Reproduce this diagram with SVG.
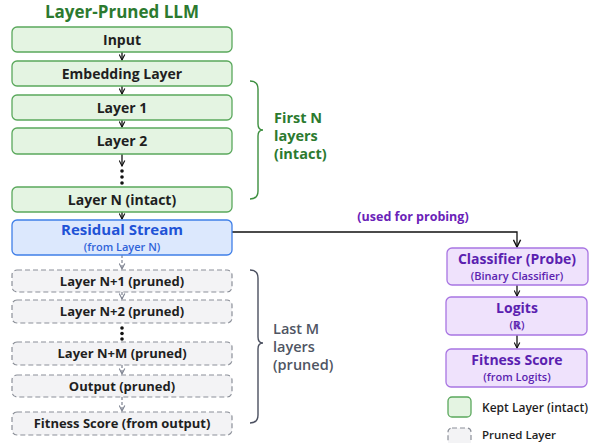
<svg xmlns="http://www.w3.org/2000/svg" width="592" height="443" viewBox="0 0 592 443">
<defs>
<style>
text{font-family:"Open Sans","Liberation Sans",sans-serif;}
.kept{fill:#e4f4e2;stroke:#5aa85c;stroke-width:1.3;}
.pr{fill:#f3f3f5;stroke:#8c9099;stroke-width:1.2;stroke-dasharray:5 3;}
.pur{fill:#efe2fc;stroke:#a875e2;stroke-width:1.3;}
.res{fill:#dce8fd;stroke:#3f7fe8;stroke-width:1.3;}
.t{font-size:14px;font-weight:700;fill:#1f1f1f;text-anchor:middle;}
.tp{font-size:13px;font-weight:700;fill:#1f1f1f;text-anchor:middle;}
.ph{font-size:14px;font-weight:700;fill:#5b1fb0;text-anchor:middle;}
.ps{font-size:11px;font-weight:600;fill:#5b1fb0;text-anchor:middle;}
.sol{stroke:#111;stroke-width:1.3;fill:none;}
.dsh{stroke:#7d8290;stroke-width:1.2;fill:none;stroke-dasharray:3 2;}
.dot{fill:#111;}
</style>
<marker id="ah" viewBox="0 0 10 10" refX="9" refY="5" markerWidth="7" markerHeight="7" orient="auto" markerUnits="userSpaceOnUse"><path d="M1,1 L9,5 L1,9" fill="none" stroke="#111" stroke-width="1.6"/></marker>
<marker id="ahg" viewBox="0 0 10 10" refX="9" refY="5" markerWidth="7" markerHeight="7" orient="auto" markerUnits="userSpaceOnUse"><path d="M1,1 L9,5 L1,9" fill="none" stroke="#7d8290" stroke-width="1.6"/></marker>
<marker id="ahb" viewBox="0 0 10 10" refX="9" refY="5" markerWidth="9" markerHeight="9" orient="auto" markerUnits="userSpaceOnUse"><path d="M1,1 L9,5 L1,9" fill="none" stroke="#111" stroke-width="1.6"/></marker>
</defs>
<rect width="592" height="443" fill="#ffffff"/>
<text x="122" y="18" style="font-size:17px;font-weight:700;fill:#2c7a2f;text-anchor:middle">Layer-Pruned LLM</text>

<g id="connectors">
<path class="sol" d="M122,52 V60" marker-end="url(#ah)"/>
<path class="sol" d="M122,86 V94" marker-end="url(#ah)"/>
<path class="sol" d="M122,120 V127" marker-end="url(#ah)"/>
<path class="sol" d="M122,154 V166" marker-end="url(#ah)"/>
<circle class="dot" cx="122" cy="171" r="1.8"/>
<circle class="dot" cx="122" cy="177" r="1.8"/>
<circle class="dot" cx="122" cy="183" r="1.8"/>
<path class="sol" d="M122,212 V219" marker-end="url(#ah)"/>
<path class="dsh" d="M122,255 V269" marker-end="url(#ahg)"/>
<path class="dsh" d="M122,292 V299" marker-end="url(#ahg)"/>
<circle class="dot" cx="122" cy="328" r="1.8"/>
<circle class="dot" cx="122" cy="333.5" r="1.8"/>
<circle class="dot" cx="122" cy="339" r="1.8"/>
<path class="dsh" d="M122,365 V374" marker-end="url(#ahg)"/>
<path class="dsh" d="M122,397 V411" marker-end="url(#ahg)"/>
<path class="sol" d="M232,232 H517 V247" marker-end="url(#ahb)"/>
<text x="413" y="221" style="font-size:12.5px;font-weight:700;fill:#6a22b8;text-anchor:middle">(used for probing)</text>
<path class="sol" d="M517,285 V296" marker-end="url(#ah)"/>
<path class="sol" d="M517,335 V348" marker-end="url(#ah)"/>
</g>

<g id="brace-first">
<path d="M250,81 Q258,81 258,89 V124 Q258,130 263,130 Q258,130 258,136 V191 Q258,199 250,199" fill="none" stroke="#3d8f3f" stroke-width="1.4"/>
<text x="274" y="123" style="font-size:14.5px;font-weight:700;fill:#2c7a2f">First N</text>
<text x="274" y="141" style="font-size:14.5px;font-weight:700;fill:#2c7a2f">layers</text>
<text x="274" y="159" style="font-size:14.5px;font-weight:700;fill:#2c7a2f">(intact)</text>
</g>
<g id="brace-last">
<path d="M250,270 Q258,270 258,278 V337 Q258,343 263,343 Q258,343 258,349 V415 Q258,423 250,423" fill="none" stroke="#4b5060" stroke-width="1.4"/>
<text x="273" y="334" style="font-size:14.5px;font-weight:600;fill:#4f5563">Last M</text>
<text x="273" y="352" style="font-size:14.5px;font-weight:600;fill:#4f5563">layers</text>
<text x="273" y="370" style="font-size:14.5px;font-weight:600;fill:#4f5563">(pruned)</text>
</g>

<g id="input"><rect class="kept" x="12" y="27" width="220" height="25" rx="5"/><text class="t" x="122" y="44.5">Input</text></g>
<g id="embedding"><rect class="kept" x="12" y="61" width="220" height="25" rx="5"/><text class="t" x="122" y="78.5">Embedding Layer</text></g>
<g id="layer1"><rect class="kept" x="12" y="95" width="220" height="25" rx="5"/><text class="t" x="122" y="112.5">Layer 1</text></g>
<g id="layer2"><rect class="kept" x="12" y="128" width="220" height="26" rx="5"/><text class="t" x="122" y="146">Layer 2</text></g>
<g id="layerN"><rect class="kept" x="12" y="187" width="220" height="25" rx="5"/><text class="t" x="122" y="204.5">Layer N (intact)</text></g>
<g id="residual"><rect class="res" x="12" y="220" width="220" height="35" rx="5"/>
<text x="122" y="235" style="font-size:15px;font-weight:700;fill:#1f53d6;text-anchor:middle">Residual Stream</text>
<text x="122" y="251" style="font-size:11px;font-weight:600;fill:#2f63d9;text-anchor:middle">(from Layer N)</text></g>
<g id="layerN1"><rect class="pr" x="12" y="270" width="220" height="22" rx="5"/><text class="tp" x="122" y="286">Layer N+1 (pruned)</text></g>
<g id="layerN2"><rect class="pr" x="12" y="300" width="220" height="23" rx="5"/><text class="tp" x="122" y="316">Layer N+2 (pruned)</text></g>
<g id="layerNM"><rect class="pr" x="12" y="342" width="220" height="23" rx="5"/><text class="tp" x="122" y="358">Layer N+M (pruned)</text></g>
<g id="output"><rect class="pr" x="12" y="375" width="220" height="22" rx="5"/><text class="tp" x="122" y="391">Output (pruned)</text></g>
<g id="fitness-out"><rect class="pr" x="12" y="412" width="220" height="23" rx="5"/><text class="tp" x="122" y="428">Fitness Score (from output)</text></g>

<g id="classifier"><rect class="pur" x="447" y="248" width="141" height="37" rx="5"/><text class="ph" x="517" y="264">Classifier (Probe)</text><text class="ps" x="517" y="280">(Binary Classifier)</text></g>
<g id="logits"><rect class="pur" x="446" y="297" width="141" height="38" rx="5"/><text class="ph" x="517" y="313">Logits</text><text class="ps" x="517" y="329">(ℝ)</text></g>
<g id="fitness-logits"><rect class="pur" x="446" y="349" width="141" height="38" rx="5"/><text class="ph" x="517" y="365">Fitness Score</text><text class="ps" x="517" y="381">(from Logits)</text></g>

<g id="legend">
<rect class="kept" x="448" y="397" width="23" height="20" rx="4"/>
<text x="482" y="412" style="font-size:12px;font-weight:600;fill:#1f1f1f">Kept Layer (intact)</text>
<rect class="pr" x="448" y="428" width="23" height="20" rx="4"/>
<text x="482" y="439" style="font-size:11.5px;font-weight:600;fill:#1f1f1f">Pruned Layer</text>
</g>
</svg>
